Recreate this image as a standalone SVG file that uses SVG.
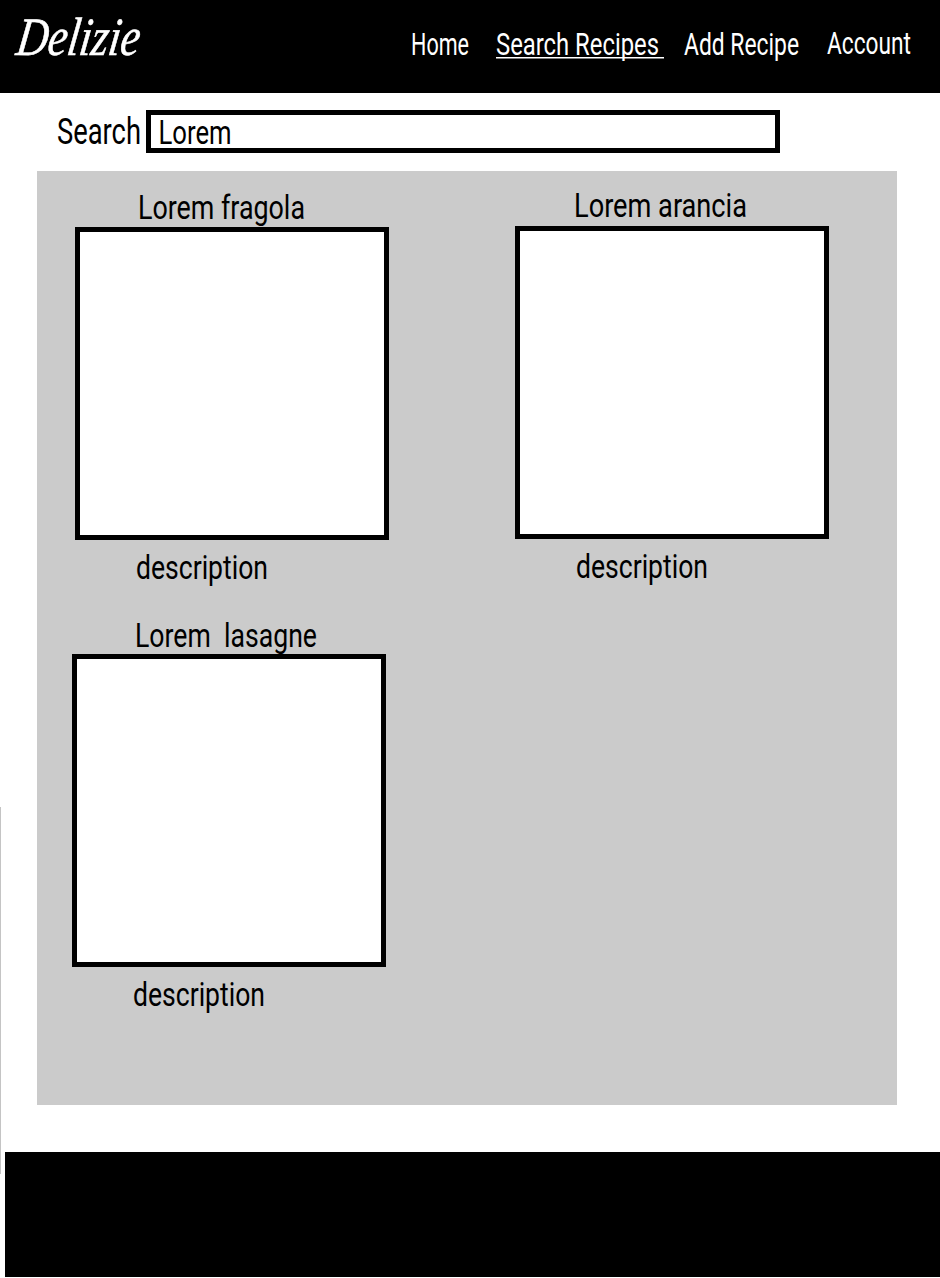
<svg xmlns="http://www.w3.org/2000/svg" width="940" height="1278" viewBox="0 0 940 1278">
<style>
.t{font-family:"Roboto","Liberation Sans",sans-serif;font-size:33px;fill:#000}
.n{font-family:"Roboto","Liberation Sans",sans-serif;font-size:31px;fill:#fff}
.b{fill:#fff;stroke:#000;stroke-width:5}
</style>
<rect width="940" height="1278" fill="#fff"/>
<g id="header">
<rect x="0" y="0" width="940" height="93" fill="#000"/>
<text transform="translate(15 55) skewX(-8)" font-family="'Liberation Serif',serif" font-style="italic" font-size="54" fill="#fff" stroke="#fff" stroke-width="0.6" textLength="123" lengthAdjust="spacingAndGlyphs">Delizie</text>
<text class="n" x="411" y="54.500" textLength="58" lengthAdjust="spacingAndGlyphs">Home</text>
<text class="n" x="496" y="54.500" textLength="163" lengthAdjust="spacingAndGlyphs">Search Recipes</text>
<rect x="496" y="57" width="168" height="1.500" fill="#fff"/>
<text class="n" x="684" y="54.500" textLength="115" lengthAdjust="spacingAndGlyphs">Add Recipe</text>
<text class="n" x="827" y="53.500" textLength="84" lengthAdjust="spacingAndGlyphs">Account</text>
</g>
<g id="search">
<text class="t" x="57" y="143.500" style="font-size:36px" textLength="84" lengthAdjust="spacingAndGlyphs">Search</text>
<rect class="b" x="148.500" y="112.500" width="629" height="38"/>
<text class="t" x="158.500" y="143.500" style="font-size:34px" textLength="73" lengthAdjust="spacingAndGlyphs">Lorem</text>
</g>
<g id="panel"><rect x="37" y="171" width="860" height="934" fill="#cbcbcb"/></g>
<g id="card-fragola">
<text class="t" x="138" y="219" textLength="167" lengthAdjust="spacingAndGlyphs">Lorem fragola</text>
<rect class="b" x="77.500" y="229.500" width="309" height="308"/>
<text class="t" x="136" y="579" textLength="132" lengthAdjust="spacingAndGlyphs">description</text>
</g>
<g id="card-arancia">
<text class="t" x="574" y="216.500" textLength="173" lengthAdjust="spacingAndGlyphs">Lorem arancia</text>
<rect class="b" x="517.500" y="228.500" width="309" height="308"/>
<text class="t" x="576" y="578" textLength="132" lengthAdjust="spacingAndGlyphs">description</text>
</g>
<g id="card-lasagne">
<text class="t" x="135" y="647" textLength="182" lengthAdjust="spacingAndGlyphs" xml:space="preserve">Lorem  lasagne</text>
<rect class="b" x="74.500" y="656.500" width="309" height="308"/>
<text class="t" x="133" y="1006" textLength="132" lengthAdjust="spacingAndGlyphs">description</text>
</g>
<g id="footer">
<rect x="5" y="1152" width="935" height="125" fill="#000"/>
<rect x="0" y="807" width="1" height="367" fill="#c4c4c4"/>
</g>
<g id="connectors"/>
</svg>
